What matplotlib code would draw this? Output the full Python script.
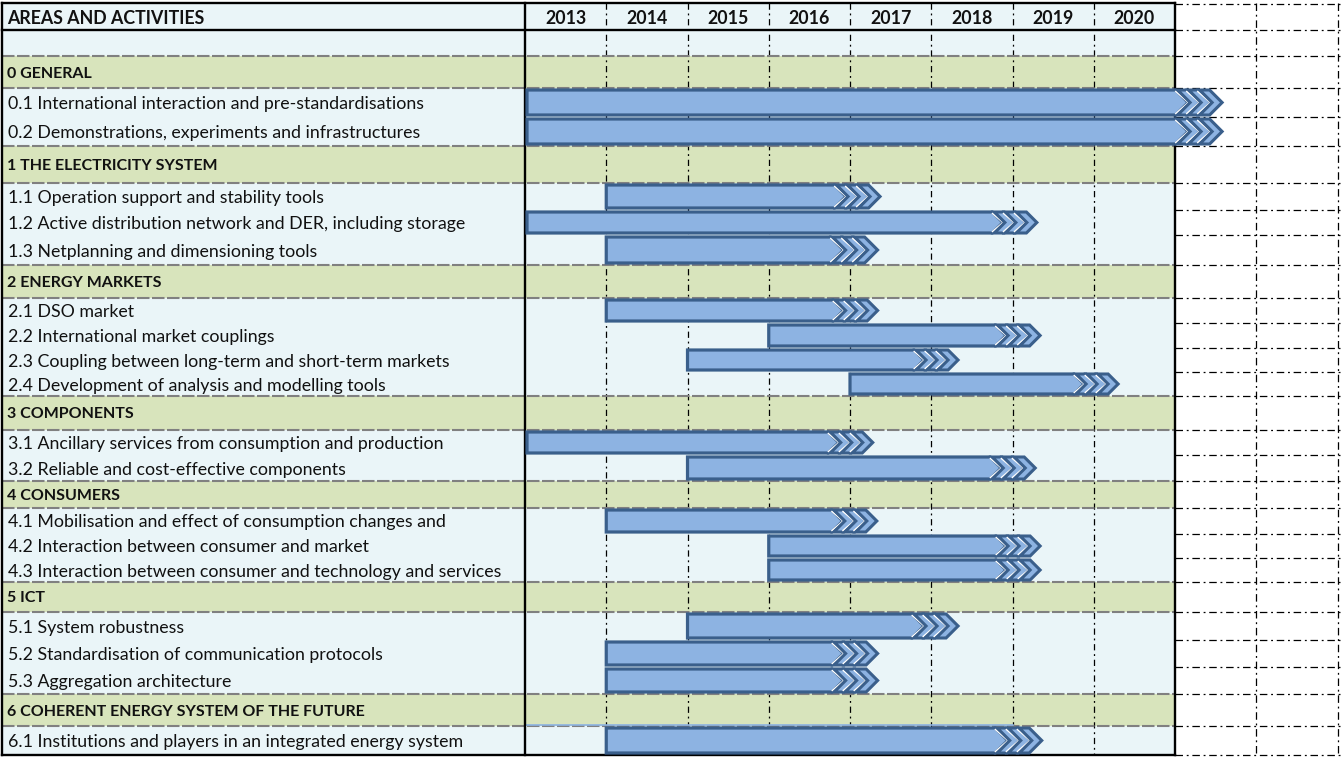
import matplotlib
matplotlib.use("Agg")
import matplotlib.pyplot as plt
from matplotlib.patches import Polygon, Rectangle

# ---------------- data ----------------
years = [2013, 2014, 2015, 2016, 2017, 2018, 2019, 2020]
header_left = "AREAS AND ACTIVITIES"
section_labels = [
    "0 GENERAL",
    "1 THE ELECTRICITY SYSTEM",
    "2 ENERGY MARKETS",
    "3 COMPONENTS",
    "4 CONSUMERS",
    "5 ICT",
    "6 COHERENT ENERGY SYSTEM OF THE FUTURE",
]
activity_labels = [
    "0.1 International interaction and pre-standardisations",
    "0.2 Demonstrations, experiments and infrastructures",
    "1.1 Operation support and stability tools",
    "1.2 Active distribution network and DER, including storage",
    "1.3 Netplanning and dimensioning tools",
    "2.1 DSO market",
    "2.2 International market couplings",
    "2.3 Coupling between long-term and short-term markets",
    "2.4 Development of analysis and modelling tools",
    "3.1 Ancillary services from consumption and production",
    "3.2 Reliable and cost-effective components",
    "4.1 Mobilisation and effect of consumption changes and",
    "4.2 Interaction between consumer and market",
    "4.3 Interaction between consumer and technology and services",
    "5.1 System robustness",
    "5.2 Standardisation of communication protocols",
    "5.3 Aggregation architecture",
    "6.1 Institutions and players in an integrated energy system",
]
activity_section = [0, 0, 1, 1, 1, 2, 2, 2, 2, 3, 3, 4, 4, 4, 5, 5, 5, 6]
activity_start = [2013, 2013, 2014, 2013, 2014, 2014, 2016, 2015, 2017,
                  2013, 2015, 2014, 2016, 2016, 2015, 2014, 2014, 2014]
# year position of the arrow tip
activity_end = [2021.58, 2021.58, 2017.37, 2019.30, 2017.34, 2017.34, 2019.34,
                2018.33, 2020.30, 2017.28, 2019.28, 2017.33, 2019.34, 2019.34,
                2018.33, 2017.34, 2017.34, 2019.36]

# ---------------- layout (pixels) ----------------
W, H, DPI = 1341, 757, 100
TOP = 3
HEADER_H, BLANK_H = 27, 26
section_h = [32, 37, 33, 34, 27, 30, 32]
item_h = [29, 29, 27, 25, 30, 25, 25, 24, 24, 25, 26, 26, 24, 24, 28, 27, 27, 29]
X_LEFT_PX, X_SPLIT_PX, PX_PER_YEAR = 2, 525, 81.25


def px2yr(px):
    return years[0] + (px - X_SPLIT_PX) / PX_PER_YEAR


def pxw(px):
    return px / PX_PER_YEAR


X_LEFT = px2yr(X_LEFT_PX)
X_TABLE_END = years[-1] + 1
X_FIG_END = px2yr(W)

C_BLUEBG = "#eaf5f8"
C_GREEN = "#d8e4bc"
C_FILL = "#8db3e2"
C_EDGE = "#3a5f8b"
C_TEXT = "#111111"

plt.rcParams["font.family"] = ["Lato", "DejaVu Sans"]

fig = plt.figure(figsize=(W / DPI, H / DPI), dpi=DPI)
fig.patch.set_facecolor("white")
ax = fig.add_axes([0, 0, 1, 1])
ax.set_xlim(px2yr(0), X_FIG_END)
ax.set_ylim(H, 0)
ax.axis("off")

# rows: (kind, label, y0, y1, activity index)
rows = []
y = TOP
rows.append(("header", header_left, y, y + HEADER_H, None)); y += HEADER_H
rows.append(("blank", "", y, y + BLANK_H, None)); y += BLANK_H
for s, lab in enumerate(section_labels):
    rows.append(("section", lab, y, y + section_h[s], None)); y += section_h[s]
    for i, sec in enumerate(activity_section):
        if sec == s:
            rows.append(("item", activity_labels[i], y, y + item_h[i], i)); y += item_h[i]
BOTTOM = y

# backgrounds
for kind, lab, y0, y1, idx in rows:
    col = C_GREEN if kind == "section" else C_BLUEBG
    ax.add_patch(Rectangle((X_LEFT, y0), X_TABLE_END - X_LEFT, y1 - y0,
                           facecolor=col, edgecolor="none", zorder=0))

# year divider lines
for yr in years[1:]:
    ax.plot([yr, yr], [TOP, BOTTOM], color="black", lw=0.9,
            linestyle=(0, (5, 3, 1.5, 3)), zorder=1)

# gray dashed lines around section rows
hl = set()
for kind, lab, y0, y1, idx in rows:
    if kind == "section":
        hl.add(y0); hl.add(y1)
for yy in sorted(hl):
    ax.plot([X_LEFT, X_TABLE_END], [yy, yy], color="#808080", lw=1.5,
            linestyle=(0, (6, 1.2)), zorder=1)

# right hand grid (outside table)
bounds = [TOP + 1] + [r[3] for r in rows]
for yy in bounds:
    ax.plot([X_TABLE_END, X_FIG_END], [yy, yy], color="black", lw=0.9,
            linestyle=(0, (6, 3, 1.5, 3)), zorder=1)
for xx in [X_TABLE_END + 1, X_TABLE_END + 2]:
    ax.plot([xx, xx], [TOP, BOTTOM + 2], color="black", lw=0.9,
            linestyle=(0, (6, 3, 1.5, 3)), zorder=1)

# thick borders
thick = dict(color="black", lw=1.7, zorder=2, solid_capstyle="projecting")
ax.plot([X_LEFT, X_LEFT], [TOP, BOTTOM], **thick)
ax.plot([years[0], years[0]], [TOP, BOTTOM], **thick)
ax.plot([X_TABLE_END, X_TABLE_END], [TOP, BOTTOM], **thick)
ax.plot([X_LEFT, X_TABLE_END], [TOP, TOP], **thick)
ax.plot([X_LEFT, X_TABLE_END], [TOP + HEADER_H, TOP + HEADER_H], **thick)
ax.plot([X_LEFT, X_TABLE_END], [BOTTOM, BOTTOM], **thick)

# thin blue line above the last row
last = rows[-1]
ax.plot([years[0], 2019], [last[2] - 1.5, last[2] - 1.5], color=C_FILL, lw=1.2, zorder=1)

# bars
S, W_CH, OFF = 11, 10, 2
for kind, lab, y0, y1, i in rows:
    if kind != "item":
        continue
    top, bot = y0 + 2, y1 - 2
    mid = (top + bot) / 2
    d = (bot - top) / 2
    tip = activity_end[i]
    E = tip - pxw(OFF + 2 * S + W_CH + d)
    xs = activity_start[i] + (pxw(2) if activity_start[i] == years[0] else 0)
    body = Polygon([(xs, top), (E, top), (E + pxw(d), mid), (E, bot), (xs, bot)],
                   closed=True, facecolor=C_FILL, edgecolor=C_EDGE, lw=2.3,
                   joinstyle="miter", zorder=4)
    ax.add_patch(body)
    for k in range(3):
        a = E + pxw(OFF + S * k)
        pts = [(a, top), (a + pxw(W_CH), top), (a + pxw(W_CH + d), mid),
               (a + pxw(W_CH), bot), (a, bot), (a + pxw(d), mid)]
        ax.plot([a - pxw(1.8), a + pxw(d - 1.8), a - pxw(1.8)], [top + 1.5, mid, bot - 1.5],
                color="white", lw=1.1, zorder=5 + k)
        ax.add_patch(Polygon(pts, closed=True, facecolor=C_FILL, edgecolor=C_EDGE,
                             lw=2.2, joinstyle="miter", zorder=5 + k))

# texts
TX = px2yr(8)
for kind, lab, y0, y1, idx in rows:
    yc = (y0 + y1) / 2 + 1.5
    if kind == "header":
        ax.text(px2yr(7), yc, lab, fontsize=12.8, fontweight="bold", color=C_TEXT,
                va="center", ha="left", zorder=10)
        for yr in years:
            ax.text(yr + 0.5, yc, str(yr), fontsize=12.8, fontweight="bold",
                    color=C_TEXT, va="center", ha="center", zorder=10)
    elif kind == "section":
        ax.text(px2yr(7), yc, lab, fontsize=11.5, fontweight="bold", color=C_TEXT,
                va="center", ha="left", zorder=10)
    elif kind == "item":
        ax.text(TX, yc, lab, fontsize=12.8, color=C_TEXT, va="center", ha="left",
                zorder=10)

fig.savefig("out.png", dpi=DPI, facecolor="white")
